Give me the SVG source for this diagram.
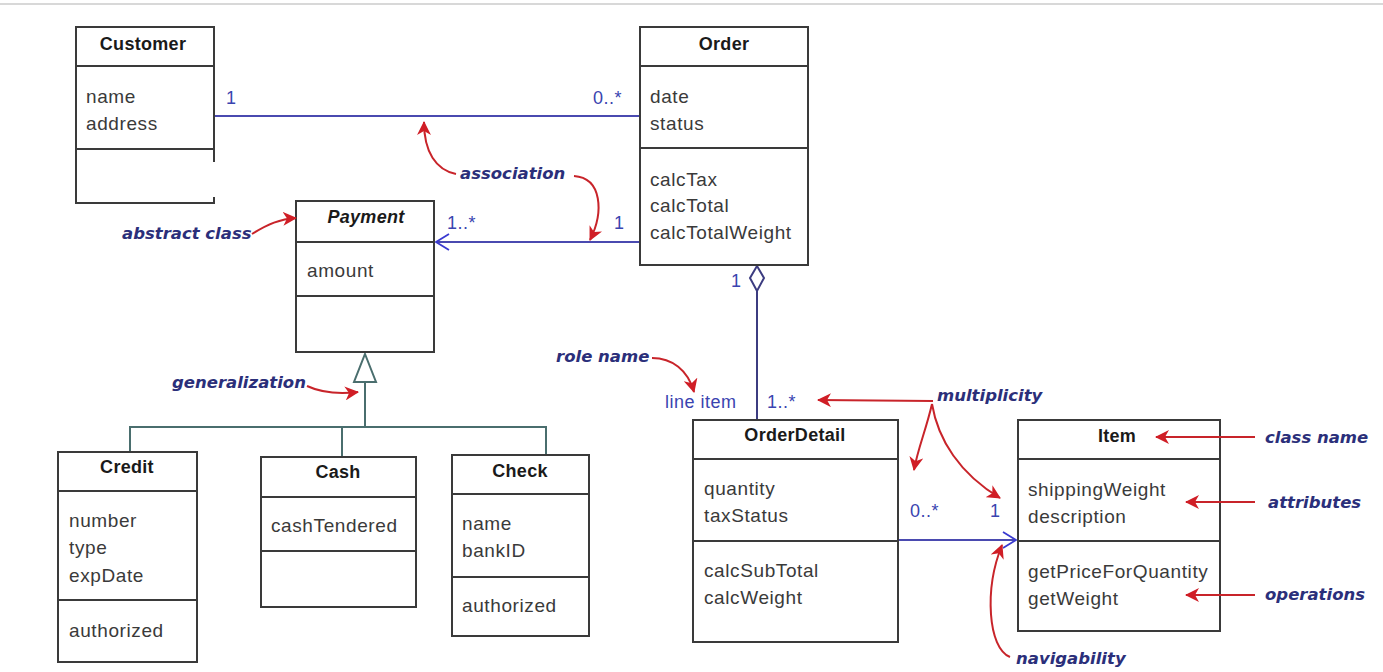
<svg xmlns="http://www.w3.org/2000/svg" width="1383" height="672" viewBox="0 0 1383 672">
  <style>
    .box { fill: #ffffff; stroke: #3a3a3a; stroke-width: 2; }
    .sep { stroke: #3a3a3a; stroke-width: 2; }
    .title { font-family: "Liberation Sans", Arial, sans-serif; font-size: 18px; font-weight: bold; fill: #1a1a1a; text-anchor: middle; letter-spacing: 0.3px; }
    .member { font-family: "Liberation Sans", Arial, sans-serif; font-size: 19px; fill: #3a3a3a; letter-spacing: 0.6px; }
    .mult { font-family: "Liberation Sans", Arial, sans-serif; font-size: 18px; fill: #3a44b0; letter-spacing: 0.5px; }
    .note { font-family: "DejaVu Sans", Verdana, sans-serif; font-size: 16.5px; font-style: italic; font-weight: bold; fill: #2b2f7a; }
    .assoc { stroke: #4a4ab0; stroke-width: 2; fill: none; }
    .gen { stroke: #4a6e6e; stroke-width: 2; fill: none; }
    .agg { stroke: #3c3c80; stroke-width: 2; fill: none; }
    .pointer { stroke: #c8242a; stroke-width: 2; fill: none; marker-end: url(#redhead); }
  </style>
  <defs>
    <marker id="redhead" markerUnits="userSpaceOnUse" markerWidth="16" markerHeight="14" refX="13" refY="7" orient="auto">
      <path d="M0,0 L14,7 L0,14 L4,7 z" fill="#d01e26"/>
    </marker>
    <marker id="openhead" markerUnits="userSpaceOnUse" markerWidth="16" markerHeight="18" refX="14" refY="9" orient="auto">
      <path d="M1,1 L14,9 L1,17" fill="none" stroke="#3a3ad0" stroke-width="1.8"/>
    </marker>
  </defs>

  <rect x="0" y="0" width="1383" height="672" fill="#ffffff"/>
  <line x1="0" y1="4" x2="1383" y2="4" stroke="#d8d8d8" stroke-width="2"/>

  <!-- connectors -->
  <g id="connectors">
    <!-- Customer - Order association -->
    <line class="assoc" x1="214" y1="116" x2="640" y2="116"/>
    <text class="mult" x="226" y="104">1</text>
    <text class="mult" x="593" y="104">0..*</text>

    <!-- Order -> Payment navigable association -->
    <line class="assoc" x1="640" y1="242" x2="436" y2="242" stroke="#3a3ad0" marker-end="url(#openhead)"/>
    <text class="mult" x="447" y="229">1..*</text>
    <text class="mult" x="614" y="229">1</text>

    <!-- Order <>- OrderDetail aggregation -->
    <path class="agg" d="M757,266 L764,278 L757,291 L750,278 z" fill="#ffffff"/>
    <line class="agg" x1="757" y1="291" x2="757" y2="420"/>
    <text class="mult" x="731" y="287" fill="#3c3c80">1</text>
    <text class="mult" x="665" y="408">line item</text>
    <text class="mult" x="767" y="408">1..*</text>

    <!-- OrderDetail -> Item navigable association -->
    <line class="assoc" x1="898" y1="540" x2="1016" y2="540" stroke="#3a3ad0" marker-end="url(#openhead)"/>
    <text class="mult" x="910" y="517">0..*</text>
    <text class="mult" x="990" y="517">1</text>

    <!-- generalization Payment <|- Credit, Cash, Check -->
    <path class="gen" d="M365,354 L376,382 L354,382 z" fill="#ffffff"/>
    <line class="gen" x1="365" y1="382" x2="365" y2="427"/>
    <polyline class="gen" points="130,452 130,427 546,427 546,455"/>
    <line class="gen" x1="342" y1="427" x2="342" y2="457"/>
  </g>

  <!-- classes -->
  <g id="customer">
    <path class="box" d="M214,162 L214,27 L76,27 L76,203 L214,203 L214,197"/>
    <line class="sep" x1="76" y1="66" x2="214" y2="66"/>
    <line class="sep" x1="76" y1="149" x2="214" y2="149"/>
    <text class="title" x="143" y="50">Customer</text>
    <text class="member" x="86" y="103">name</text>
    <text class="member" x="86" y="130">address</text>
  </g>

  <g id="order">
    <rect class="box" x="640" y="27" width="168" height="238"/>
    <line class="sep" x1="640" y1="66" x2="808" y2="66"/>
    <line class="sep" x1="640" y1="148" x2="808" y2="148"/>
    <text class="title" x="724" y="50">Order</text>
    <text class="member" x="650" y="103">date</text>
    <text class="member" x="650" y="130">status</text>
    <text class="member" x="650" y="186">calcTax</text>
    <text class="member" x="650" y="212">calcTotal</text>
    <text class="member" x="650" y="239">calcTotalWeight</text>
  </g>

  <g id="payment">
    <rect class="box" x="296" y="201" width="138" height="151"/>
    <line class="sep" x1="296" y1="242" x2="434" y2="242"/>
    <line class="sep" x1="296" y1="296" x2="434" y2="296"/>
    <text class="title" x="366" y="223" font-style="italic">Payment</text>
    <text class="member" x="307" y="277">amount</text>
  </g>

  <g id="credit">
    <rect class="box" x="58" y="452" width="139" height="210"/>
    <line class="sep" x1="58" y1="491" x2="197" y2="491"/>
    <line class="sep" x1="58" y1="600" x2="197" y2="600"/>
    <text class="title" x="127" y="473">Credit</text>
    <text class="member" x="69" y="527">number</text>
    <text class="member" x="69" y="554">type</text>
    <text class="member" x="69" y="582">expDate</text>
    <text class="member" x="69" y="637">authorized</text>
  </g>

  <g id="cash">
    <rect class="box" x="261" y="457" width="155" height="150"/>
    <line class="sep" x1="261" y1="497" x2="416" y2="497"/>
    <line class="sep" x1="261" y1="551" x2="416" y2="551"/>
    <text class="title" x="338" y="478">Cash</text>
    <text class="member" x="271" y="532">cashTendered</text>
  </g>

  <g id="check">
    <rect class="box" x="452" y="455" width="137" height="181"/>
    <line class="sep" x1="452" y1="494" x2="589" y2="494"/>
    <line class="sep" x1="452" y1="577" x2="589" y2="577"/>
    <text class="title" x="520" y="477">Check</text>
    <text class="member" x="462" y="530">name</text>
    <text class="member" x="462" y="557">bankID</text>
    <text class="member" x="462" y="612">authorized</text>
  </g>

  <g id="orderdetail">
    <rect class="box" x="693" y="420" width="205" height="222"/>
    <line class="sep" x1="693" y1="459" x2="898" y2="459"/>
    <line class="sep" x1="693" y1="541" x2="898" y2="541"/>
    <text class="title" x="795" y="441">OrderDetail</text>
    <text class="member" x="704" y="495">quantity</text>
    <text class="member" x="704" y="522">taxStatus</text>
    <text class="member" x="704" y="577">calcSubTotal</text>
    <text class="member" x="704" y="604">calcWeight</text>
  </g>

  <g id="item">
    <rect class="box" x="1018" y="420" width="202" height="211"/>
    <line class="sep" x1="1018" y1="459" x2="1220" y2="459"/>
    <line class="sep" x1="1018" y1="541" x2="1220" y2="541"/>
    <text class="title" x="1117" y="442">Item</text>
    <text class="member" x="1028" y="496">shippingWeight</text>
    <text class="member" x="1028" y="523">description</text>
    <text class="member" x="1028" y="578">getPriceForQuantity</text>
    <text class="member" x="1028" y="605">getWeight</text>
  </g>

  <!-- explanatory callouts -->
  <g id="annotations">
    <text class="note" x="460" y="179">association</text>
    <path class="pointer" d="M456,174 C436,170 424,152 424,122"/>
    <path class="pointer" d="M574,176 C602,178 604,212 590,240"/>

    <text class="note" x="122" y="239">abstract class</text>
    <path class="pointer" d="M252,234 C268,224 280,219 296,218"/>

    <text class="note" x="172" y="388">generalization</text>
    <path class="pointer" d="M307,386 C322,393 340,394 358,392"/>

    <text class="note" x="556" y="362">role name</text>
    <path class="pointer" d="M652,358 C672,358 688,370 694,392"/>

    <text class="note" x="937" y="401">multiplicity</text>
    <path class="pointer" d="M933,401 L818,400"/>
    <path class="pointer" d="M932,404 C926,430 918,448 914,470"/>
    <path class="pointer" d="M932,404 C938,440 960,474 1000,498"/>

    <text class="note" x="1265" y="443">class name</text>
    <path class="pointer" d="M1255,437 L1156,437"/>

    <text class="note" x="1268" y="508">attributes</text>
    <path class="pointer" d="M1255,502 L1186,502"/>

    <text class="note" x="1265" y="600">operations</text>
    <path class="pointer" d="M1255,595 L1186,595"/>

    <text class="note" x="1016" y="664">navigability</text>
    <path class="pointer" d="M1010,657 C988,648 984,590 1002,545"/>
  </g>
</svg>
